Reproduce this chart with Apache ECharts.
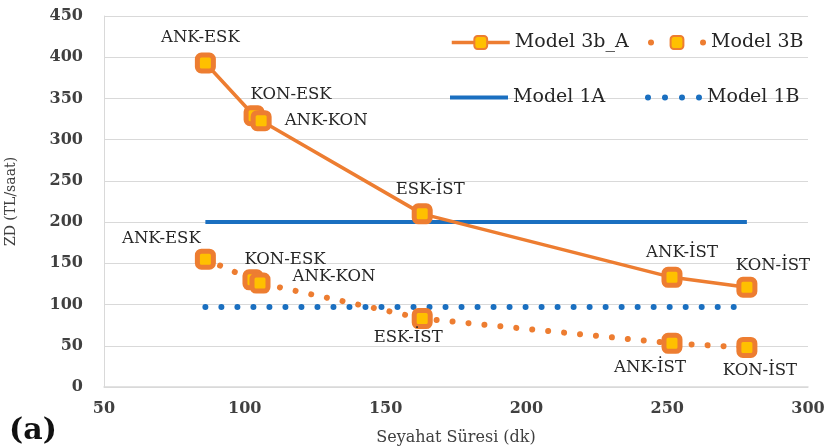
<!DOCTYPE html>
<html><head><meta charset="utf-8">
<script src="https://cdn.jsdelivr.net/npm/echarts@6/dist/echarts.min.js"></script>
<style>html,body{margin:0;padding:0;background:#fff}#c{width:830px;height:448px}</style>
</head><body><div id="c"></div>
<script>
// ---- data ----
var routes = ['ANK-ESK','KON-ESK','ANK-KON','ESK-İST','ANK-İST','KON-İST'];
var time3bA = [86, 103.3, 105.8, 163, 251.7, 278.3];
var zd3bA   = [393, 329, 323, 210, 133, 121];
var time3B  = [86, 102.9, 105.4, 163, 251.7, 278.3];
var zd3B    = [155, 130, 126, 83, 53, 48];
var time1   = [86, 278.3];
var zd1A    = [200, 200];
var zd1B    = [97, 97];
var xTicks  = [50, 300, 50];   // min, max, interval
var yTicks  = [0, 450, 50];
var seriesNames = ['Model 3b_A','Model 3B','Model 1A','Model 1B'];

// ---- styling (label offsets in px) ----
var off3bA = [[-5,-25],[37,-21],[65,0],[8,-24],[10,-25],[26,-22]];
var off3B  = [[-44,-20],[32,-20],[74,-6],[-14,19],[-22,24],[13,23]];
var ORANGE = '#ED7D31', YELLOW = '#FFC000', BLUE = '#1A6FC0';
var SERIF = '"DejaVu Serif","Liberation Serif",serif';

function pts(xs, ys, names, offs) {
  return xs.map(function (x, i) {
    var d = { value: [x, ys[i]] };
    if (names) {
      d.name = names[i];
      d.label = { show: true, position: 'inside', offset: offs[i], formatter: '{b}' };
    }
    return d;
  });
}
var labelBase = { color: '#262626', fontFamily: SERIF, fontSize: 16.5, align: 'center', verticalAlign: 'middle' };
var markerStyle = { color: YELLOW, borderColor: ORANGE, borderWidth: 5 };
var legendText = { fontFamily: SERIF, fontSize: 19, color: '#262626' };
var dotsPath = 'path://M0,3a3,3 0 1,0 6,0a3,3 0 1,0 -6,0M17,3a3,3 0 1,0 6,0a3,3 0 1,0 -6,0M34,3a3,3 0 1,0 6,0a3,3 0 1,0 -6,0M51,3a3,3 0 1,0 6,0a3,3 0 1,0 -6,0';
var barPath = 'path://M0,0L58,0L58,4L0,4Z';

function leg(name, left, top, extra) {
  var l = { data: [name], left: left, top: top, itemWidth: 58, itemHeight: 16, padding: 0,
            textStyle: legendText, lineStyle: { width: 'inherit' } };
  for (var k in extra) l[k] = extra[k];
  return l;
}

var chart = echarts.init(document.getElementById('c'));
chart.setOption({
  animation: false,
  backgroundColor: '#fff',
  grid: { left: 104, right: 22, top: 16, bottom: 61, outerBoundsMode: 'none', containLabel: false },
  xAxis: {
    type: 'value', min: xTicks[0], max: xTicks[1], interval: xTicks[2],
    name: 'Seyahat Süresi (dk)', nameLocation: 'middle', nameGap: 43,
    nameTextStyle: { fontFamily: SERIF, fontSize: 16, color: '#404040' },
    axisLine: { show: true, lineStyle: { color: '#d9d9d9', width: 1.5 } },
    axisTick: { show: false }, splitLine: { show: false },
    axisLabel: { fontFamily: SERIF, fontSize: 16, fontWeight: 'bold', color: '#404040', margin: 14 }
  },
  yAxis: {
    type: 'value', min: yTicks[0], max: yTicks[1], interval: yTicks[2],
    name: 'ZD (TL/saat)', nameLocation: 'middle', nameGap: 86, nameRotate: 90,
    nameTextStyle: { fontFamily: SERIF, fontSize: 14, color: '#404040' },
    axisLine: { show: true, lineStyle: { color: '#d9d9d9', width: 1 } },
    axisTick: { show: false },
    splitLine: { show: true, lineStyle: { color: '#d9d9d9', width: 1 } },
    axisLabel: { fontFamily: SERIF, fontSize: 16, fontWeight: 'bold', color: '#404040', margin: 21 }
  },
  legend: [
    leg(seriesNames[0], 450, 33),
    leg(seriesNames[1], 645, 33, { lineStyle: { width: 'inherit', type: [0.01, 52], dashOffset: -3, cap: 'round' } }),
    leg({ name: seriesNames[2], icon: barPath }, 450, 88, { itemHeight: 4 }),
    leg({ name: seriesNames[3], icon: dotsPath }, 645, 88, { itemHeight: 6, itemWidth: 57 })
  ],
  series: [
    { name: seriesNames[2], type: 'line', data: pts(time1, zd1A), symbol: 'none', z: 1,
      lineStyle: { color: BLUE, width: 4 }, itemStyle: { color: BLUE } },
    { name: seriesNames[3], type: 'line', data: pts(time1, zd1B), symbol: 'none', z: 1,
      lineStyle: { color: BLUE, width: 6, type: [0.01, 16], cap: 'round' }, itemStyle: { color: BLUE } },
    { name: seriesNames[0], type: 'line', data: pts(time3bA, zd3bA, routes, off3bA), z: 3,
      symbol: 'roundRect', symbolSize: 16, itemStyle: markerStyle,
      lineStyle: { color: ORANGE, width: 3.5 }, label: labelBase },
    { name: seriesNames[1], type: 'line', data: pts(time3B, zd3B, routes, off3B), z: 3,
      symbol: 'roundRect', symbolSize: 16, itemStyle: markerStyle,
      lineStyle: { color: ORANGE, width: 6, type: [0.01, 16], cap: 'round' }, label: labelBase }
  ],
  graphic: [
    { type: 'text', left: 9, top: 416, style: { text: '(a)', font: 'bold 30px ' + SERIF, fill: '#111' } }
  ]
});
</script></body></html>
